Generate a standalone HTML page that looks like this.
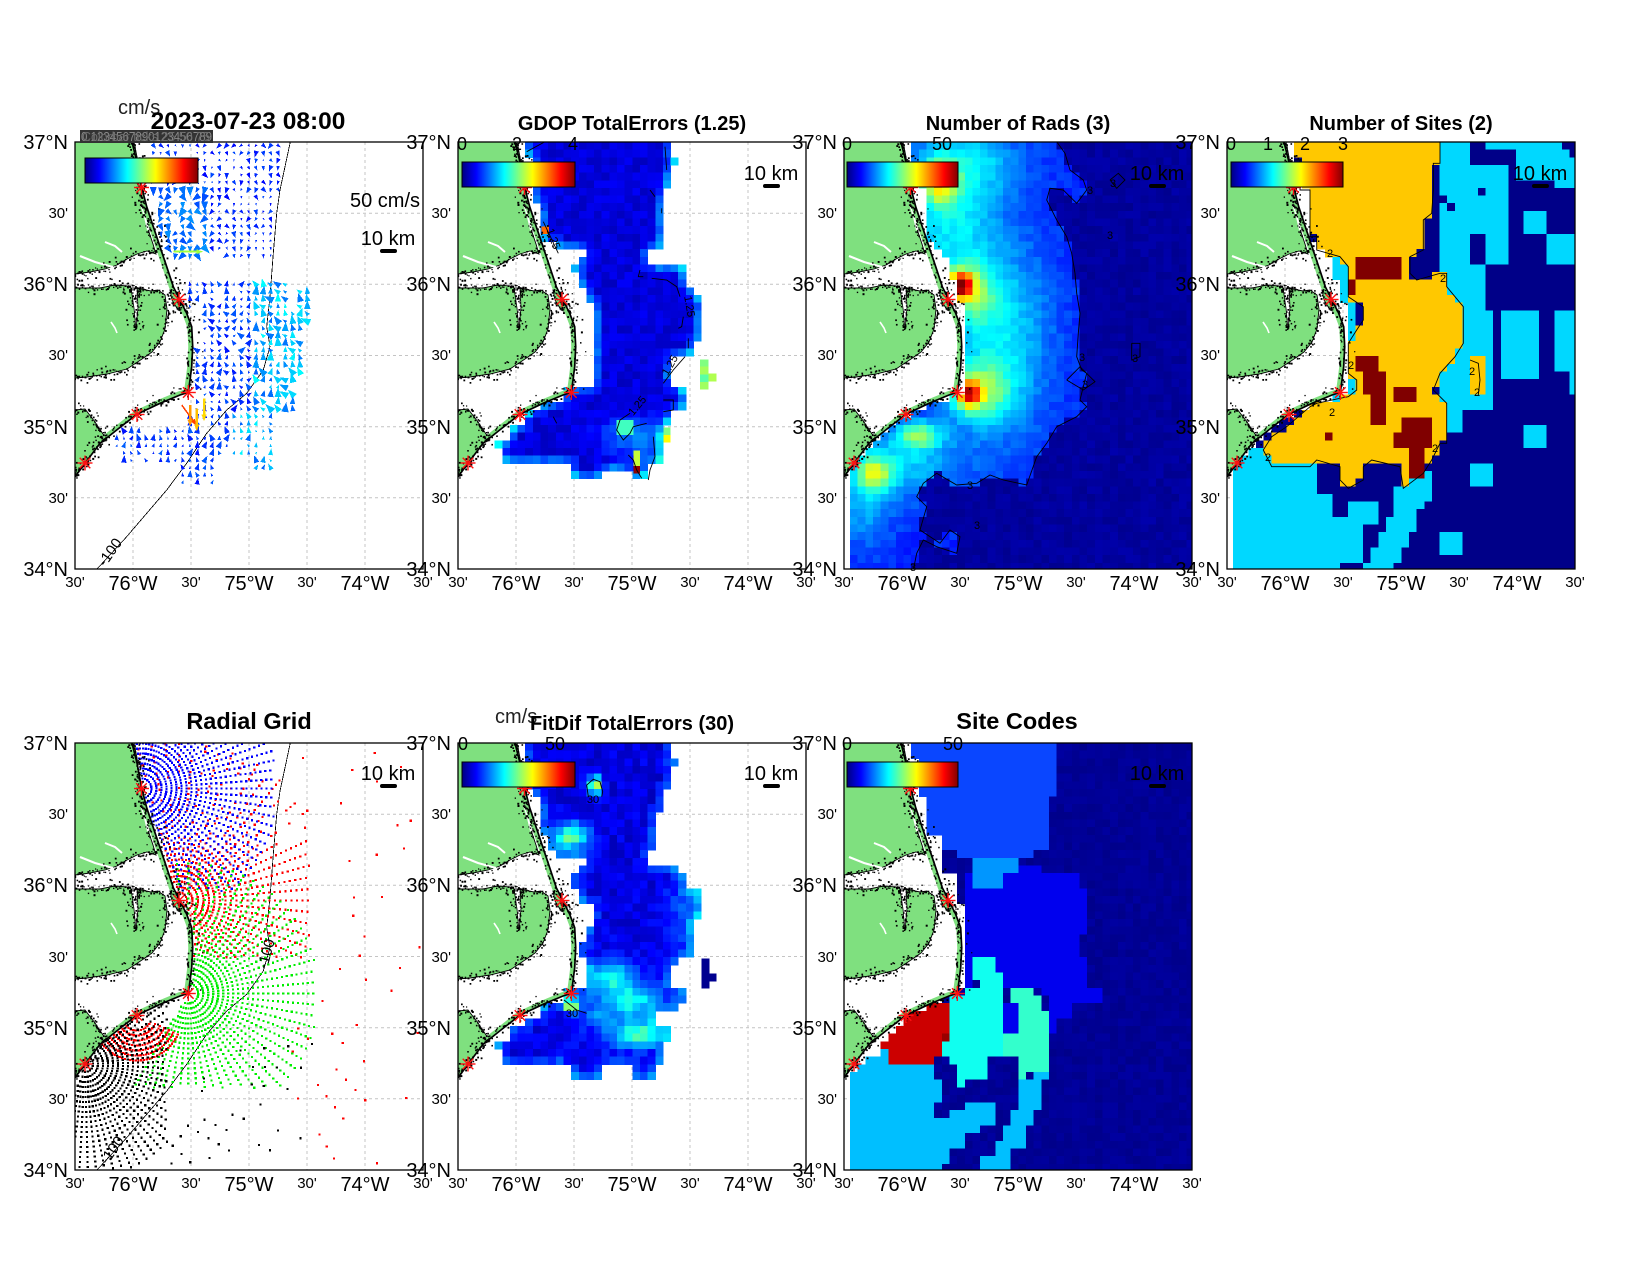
<!DOCTYPE html>
<html><head><meta charset="utf-8"><title>HFR totals</title>
<style>
html,body{margin:0;padding:0;background:#fff;overflow:hidden}
svg{display:block}
text{font-family:"Liberation Sans",Arial,sans-serif;fill:#000}
.t{font-weight:bold;font-size:20px;text-anchor:middle}
.b{font-size:20px}
.s{font-size:15px}
.e{text-anchor:end}
.m{text-anchor:middle}
.cb{font-size:18px;text-anchor:middle}
.cl{font-size:11px;text-anchor:middle}
</style></head><body>
<svg id="s" xmlns="http://www.w3.org/2000/svg" width="1650" height="1275" viewBox="0 0 1650 1275">
<defs id="defs">
<linearGradient id="jet" x1="0" y1="0" x2="1" y2="0">
<stop offset="0" stop-color="#000080"/><stop offset="0.125" stop-color="#0000ff"/><stop offset="0.375" stop-color="#00ffff"/><stop offset="0.625" stop-color="#ffff00"/><stop offset="0.875" stop-color="#ff0000"/><stop offset="1" stop-color="#800000"/>
</linearGradient>
<clipPath id="clip"><rect x="0" y="0" width="348" height="427"/></clipPath>
</defs>
<rect width="1650" height="1275" fill="#fff"/>
<g id="panels"></g>
<g id="txt">
<text x="118" y="114" style="font-size:20px;fill:#222">cm/s</text>
<text class="t" x="248" y="129" style="font-size:24.5px">2023-07-23 08:00</text>
<rect x="80" y="130" width="133" height="13" fill="#333"/>
<text x="81" y="141" style="font-size:13px;fill:#8a8a8a" textLength="131" lengthAdjust="spacingAndGlyphs">0.1234567890123456789</text>
<text x="82" y="141" style="font-size:13px;fill:#6e6e6e" textLength="128" lengthAdjust="spacingAndGlyphs">Colorbar ticks 25 50 75</text>
<text class="t" x="632" y="130">GDOP TotalErrors (1.25)</text>
<text class="t" x="1018" y="130">Number of Rads (3)</text>
<text class="t" x="1401" y="130">Number of Sites (2)</text>
<text class="t" x="249" y="729" style="font-size:23.5px">Radial Grid</text>
<text x="495" y="723" style="font-size:20px;fill:#222">cm/s</text>
<text class="t" x="632" y="730">FitDif TotalErrors (30)</text>
<text class="t" x="1017" y="729" style="font-size:23.5px">Site Codes</text>
<text class="cb" x="462" y="150">0</text><text class="cb" x="517" y="150">2</text><text class="cb" x="573" y="150">4</text>
<text class="cb" x="847" y="150">0</text><text class="cb" x="942" y="150">50</text>
<text class="cb" x="1231" y="150">0</text><text class="cb" x="1268" y="150">1</text><text class="cb" x="1305" y="150">2</text><text class="cb" x="1343" y="150">3</text>
<text class="cb" x="463" y="750">0</text><text class="cb" x="555" y="750">50</text>
<text class="cb" x="847" y="750">0</text><text class="cb" x="953" y="750">50</text>
<text x="350" y="207" style="font-size:20px">50 cm/s</text>
<text class="b m" x="388" y="245">10 km</text>
<text class="b m" x="771" y="180">10 km</text>
<text class="b m" x="1157" y="180">10 km</text>
<text class="b m" x="1540" y="180">10 km</text>
<text class="b m" x="388" y="780">10 km</text>
<text class="b m" x="771" y="780">10 km</text>
<text class="b m" x="1157" y="780">10 km</text>
<text class="s m" transform="translate(114,555) rotate(-55)">-100</text>
<text class="s m" transform="translate(116,1153) rotate(-55)">-100</text>
<text class="s m" transform="translate(271,955) rotate(-75)">-100</text>
<text class="cl" transform="translate(550,240) rotate(70)">1.25</text>
<text class="cl" transform="translate(686,307) rotate(80)">1.25</text>
<text class="cl" transform="translate(673,367) rotate(-60)">1.25</text>
<text class="cl" transform="translate(640,408) rotate(-50)">1.25</text>
<text class="cl" x="1090" y="194">3</text><text class="cl" x="1113" y="187">3</text><text class="cl" x="1110" y="239">3</text>
<text class="cl" x="1082" y="361">3</text><text class="cl" x="1085" y="388">3</text><text class="cl" x="970" y="489">3</text>
<text class="cl" x="977" y="529">3</text><text class="cl" x="913" y="571">3</text><text class="cl" x="1135" y="362">3</text>
<text class="cl" x="1330" y="257">2</text><text class="cl" x="1443" y="282">2</text><text class="cl" x="1351" y="369">2</text>
<text class="cl" x="1332" y="416">2</text><text class="cl" x="1268" y="461">2</text><text class="cl" x="1435" y="452">2</text>
<text class="cl" x="1472" y="375">2</text><text class="cl" x="1477" y="396">2</text>
<text class="cl" x="593" y="803">30</text><text class="cl" x="572" y="1017">30</text>
<text class="b e" x="68" y="149">37°N</text><text class="s e" x="68" y="218">30'</text><text class="b e" x="68" y="291">36°N</text><text class="s e" x="68" y="360">30'</text><text class="b e" x="68" y="434">35°N</text><text class="s e" x="68" y="503">30'</text><text class="b e" x="68" y="576">34°N</text>
<text class="s m" x="75" y="587">30'</text><text class="b m" x="133" y="590">76°W</text><text class="s m" x="191" y="587">30'</text><text class="b m" x="249" y="590">75°W</text><text class="s m" x="307" y="587">30'</text><text class="b m" x="365" y="590">74°W</text><text class="s m" x="423" y="587">30'</text>
<text class="b e" x="451" y="149">37°N</text><text class="s e" x="451" y="218">30'</text><text class="b e" x="451" y="291">36°N</text><text class="s e" x="451" y="360">30'</text><text class="b e" x="451" y="434">35°N</text><text class="s e" x="451" y="503">30'</text><text class="b e" x="451" y="576">34°N</text>
<text class="s m" x="458" y="587">30'</text><text class="b m" x="516" y="590">76°W</text><text class="s m" x="574" y="587">30'</text><text class="b m" x="632" y="590">75°W</text><text class="s m" x="690" y="587">30'</text><text class="b m" x="748" y="590">74°W</text><text class="s m" x="806" y="587">30'</text>
<text class="b e" x="837" y="149">37°N</text><text class="s e" x="837" y="218">30'</text><text class="b e" x="837" y="291">36°N</text><text class="s e" x="837" y="360">30'</text><text class="b e" x="837" y="434">35°N</text><text class="s e" x="837" y="503">30'</text><text class="b e" x="837" y="576">34°N</text>
<text class="s m" x="844" y="587">30'</text><text class="b m" x="902" y="590">76°W</text><text class="s m" x="960" y="587">30'</text><text class="b m" x="1018" y="590">75°W</text><text class="s m" x="1076" y="587">30'</text><text class="b m" x="1134" y="590">74°W</text><text class="s m" x="1192" y="587">30'</text>
<text class="b e" x="1220" y="149">37°N</text><text class="s e" x="1220" y="218">30'</text><text class="b e" x="1220" y="291">36°N</text><text class="s e" x="1220" y="360">30'</text><text class="b e" x="1220" y="434">35°N</text><text class="s e" x="1220" y="503">30'</text><text class="b e" x="1220" y="576">34°N</text>
<text class="s m" x="1227" y="587">30'</text><text class="b m" x="1285" y="590">76°W</text><text class="s m" x="1343" y="587">30'</text><text class="b m" x="1401" y="590">75°W</text><text class="s m" x="1459" y="587">30'</text><text class="b m" x="1517" y="590">74°W</text><text class="s m" x="1575" y="587">30'</text>
<text class="b e" x="68" y="750">37°N</text><text class="s e" x="68" y="819">30'</text><text class="b e" x="68" y="892">36°N</text><text class="s e" x="68" y="962">30'</text><text class="b e" x="68" y="1035">35°N</text><text class="s e" x="68" y="1104">30'</text><text class="b e" x="68" y="1177">34°N</text>
<text class="s m" x="75" y="1188">30'</text><text class="b m" x="133" y="1191">76°W</text><text class="s m" x="191" y="1188">30'</text><text class="b m" x="249" y="1191">75°W</text><text class="s m" x="307" y="1188">30'</text><text class="b m" x="365" y="1191">74°W</text><text class="s m" x="423" y="1188">30'</text>
<text class="b e" x="451" y="750">37°N</text><text class="s e" x="451" y="819">30'</text><text class="b e" x="451" y="892">36°N</text><text class="s e" x="451" y="962">30'</text><text class="b e" x="451" y="1035">35°N</text><text class="s e" x="451" y="1104">30'</text><text class="b e" x="451" y="1177">34°N</text>
<text class="s m" x="458" y="1188">30'</text><text class="b m" x="516" y="1191">76°W</text><text class="s m" x="574" y="1188">30'</text><text class="b m" x="632" y="1191">75°W</text><text class="s m" x="690" y="1188">30'</text><text class="b m" x="748" y="1191">74°W</text><text class="s m" x="806" y="1188">30'</text>
<text class="b e" x="837" y="750">37°N</text><text class="s e" x="837" y="819">30'</text><text class="b e" x="837" y="892">36°N</text><text class="s e" x="837" y="962">30'</text><text class="b e" x="837" y="1035">35°N</text><text class="s e" x="837" y="1104">30'</text><text class="b e" x="837" y="1177">34°N</text>
<text class="s m" x="844" y="1188">30'</text><text class="b m" x="902" y="1191">76°W</text><text class="s m" x="960" y="1188">30'</text><text class="b m" x="1018" y="1191">75°W</text><text class="s m" x="1076" y="1188">30'</text><text class="b m" x="1134" y="1191">74°W</text><text class="s m" x="1192" y="1188">30'</text>
</g>
</svg>
<script>
(function(){
var NS='http://www.w3.org/2000/svg';
function el(t,a,p){var e=document.createElementNS(NS,t);for(var k in a)e.setAttribute(k,a[k]);if(p)p.appendChild(e);return e;}
var seed=20230723;
function rnd(){seed=(Math.imul(seed,1664525)+1013904223)>>>0;return seed/4294967296;}
function cl(v){return Math.max(0,Math.min(1,v));}
function jet(v){v=cl(v);function c(x){return Math.round(255*cl(x));}return 'rgb('+c(1.5-Math.abs(4*v-3))+','+c(1.5-Math.abs(4*v-2))+','+c(1.5-Math.abs(4*v-1))+')';}
function pip(P,x,y){var c=false;for(var i=0,j=P.length-1;i<P.length;j=i++){var a=P[i],b=P[j];if(((a[1]>y)!==(b[1]>y))&&(x<(b[0]-a[0])*(y-a[1])/(b[1]-a[1])+a[0]))c=!c;}return c;}
function inR(r,x,y){return x>=r[0]&&x<r[2]&&y>=r[1]&&y<r[3];}
function pts(P){return P.map(function(p){return p[0].toFixed(1)+','+p[1].toFixed(1);}).join(' ');}
function cv(P,ox,oy){return P.map(function(p){return [p[0]/3-ox,p[1]/3-oy];});}
function bl(B,x,y){var s=0;for(var i=0;i<B.length;i++){var b=B[i];var dx=(x-b[0])/b[2],dy=(y-b[1])/b[3];s+=b[4]*Math.exp(-0.5*(dx*dx+dy*dy));}return s;}
var W=348,H=427;
var coastTop=[[57,0],[62,20],[66.7,45.3],[71.7,64.7],[78.3,84.7],[85,104.7],[91.7,124.7],[98.3,144.7],[105,158],[111.7,171.3],[116.7,184.7],[117.7,204.7],[116.7,224.7],[115,238],[113.3,250.3]];
var coastSW=[[113.3,250.3],[105,253],[85,261.3],[61.7,272.3],[41.7,288],[25,301.3],[10,321.3],[0,334.7]];
function cxTop(y){for(var i=0;i<coastTop.length-1;i++){var a=coastTop[i],b=coastTop[i+1];if(y>=a[1]&&y<=b[1])return a[0]+(b[0]-a[0])*(y-a[1])/(b[1]-a[1]);}return 113.3;}
function ySW(x){for(var i=0;i<coastSW.length-1;i++){var a=coastSW[i],b=coastSW[i+1];if(x<=a[0]&&x>=b[0])return a[1]+(b[1]-a[1])*(x-a[0])/(b[0]-a[0]);}return x<0?335:250;}
function ocean(x,y,m){if(y<=250.3)return x>cxTop(y)+m;if(x>=113.3+m)return true;return y>ySW(x)+m;}
var GAP=[[0,0],[67,0],[70,20],[72,42],[83,45],[84,100],[92,105],[101,110],[104,131],[112,142],[119,165],[122,185],[123,230],[119,250],[0,250]];
function dataMask(x,y){return ocean(x,y,2)&&!pip(GAP,x,y);}
var CS=7.65,X0=6;
function cells(g,fn){for(var x=X0;x<W;x+=CS)for(var y=0;y<H;y+=CS){var c=fn(x+CS/2,y+CS/2);if(c)el('rect',{x:x.toFixed(2),y:y.toFixed(2),width:(CS+0.5).toFixed(2),height:(CS+0.5).toFixed(2),fill:c},g);}}
function zrect(g,list,ox,oy){list.forEach(function(r){el('rect',{x:(r[0]/3-ox).toFixed(2),y:(r[1]/3-oy).toFixed(2),width:((r[2]-r[0])/3).toFixed(2),height:((r[3]-r[1])/3).toFixed(2),fill:r[4]},g);});}
function zline(g,list,ox,oy,w){list.forEach(function(L){el('polyline',{points:pts(cv(L,ox,oy)),fill:'none',stroke:'#000','stroke-width':w||0.9},g);});}
function tri(g,x,y,ang,s,col){var c=Math.cos(ang),sn=Math.sin(ang);var tx=x+s*c,ty=y+s*sn,bx=x-s*0.35*c,by=y-s*0.35*sn,px=-sn*s*0.5,py=c*s*0.5;el('polygon',{points:[tx,ty,bx+px,by+py,bx-px,by-py].map(function(v){return v.toFixed(1);}).join(' '),fill:col},g);}
function arrow(g,x1,y1,x2,y2,col,w){el('line',{x1:x1,y1:y1,x2:x2,y2:y2,stroke:col,'stroke-width':w},g);var a=Math.atan2(y2-y1,x2-x1);tri(g,x2-2*Math.cos(a),y2-2*Math.sin(a),a,5,col);}

var defs=document.getElementById('defs');
var grid=el('g',{id:'grid',stroke:'#c4c4c4','stroke-width':1,'stroke-dasharray':'3,3'},defs);
[58,116,174,232,290].forEach(function(x){el('line',{x1:x,y1:0,x2:x,y2:H},grid);});
[71.2,142.3,213.5,284.7,355.8].forEach(function(y){el('line',{x1:0,y1:y,x2:W,y2:y},grid);});
var L1=[[0,0],[59,0],[62,15],[64,32],[64,48],[66,60],[70,75],[74,90],[78,102],[81,112],[72,109],[62,112],[52,117],[42,123],[30,127],[15,130],[0,132]];
var L2=[[0,146],[25,146],[40,143],[52,144],[58,147],[66,147],[76,149],[83,148],[90,153],[92,167],[90,187],[85,200],[77,210],[67,217],[52,227],[32,232],[12,235],[0,236]];
var L2b=[[95,148],[102,150],[106,160],[108,170],[103,168],[97,158]];
var L3=[[0,268],[10,267],[20,280],[28,292],[32,298],[25,301.3],[10,321.3],[0,334.7]];
var W2=[[56,146],[62,146],[63,165],[61,188],[59,166]];
var land=el('g',{id:'land'},defs);
[L1,L2,L2b,L3].forEach(function(P){el('polygon',{points:pts(P),fill:'#7fe07f',stroke:'#000','stroke-width':0.9},land);});
el('polygon',{points:pts(W2),fill:'#fff',stroke:'#000','stroke-width':0.8},land);
el('polyline',{points:'5,114 20,120 38,125',fill:'none',stroke:'#fff','stroke-width':2.2},land);
el('polyline',{points:'30,100 40,104 47,110',fill:'none',stroke:'#fff','stroke-width':2},land);
el('polyline',{points:'66,62 70,75 73,88',fill:'none',stroke:'#fff','stroke-width':2},land);
el('polyline',{points:'36,180 40,186 42,191',fill:'none',stroke:'#fff','stroke-width':1.6},land);
el('polyline',{points:pts(coastTop.slice(1).map(function(p){return [p[0]-2.2,p[1]];})),fill:'none',stroke:'#7fe07f','stroke-width':4.5},land);
el('polyline',{points:pts(coastSW.map(function(p){return [p[0]-1.3,p[1]-1.8];})),fill:'none',stroke:'#7fe07f','stroke-width':3.5},land);
var dots=el('g',{fill:'#000'},land);
function edgeDots(P,closed,spread,prob,step,bias){var n=P.length,lim=closed?n:n-1;for(var i=0;i<lim;i++){var a=P[i],b=P[(i+1)%n];if((a[0]<=0.5&&b[0]<=0.5)||(a[1]<=0.5&&b[1]<=0.5))continue;var dx=b[0]-a[0],dy=b[1]-a[1],L=Math.hypot(dx,dy);if(L<0.1)continue;var nx=-dy/L,ny=dx/L;for(var t=0;t<L;t+=step){if(rnd()>prob)continue;var o=(rnd()-0.5)*2*spread+(bias||0);var x=a[0]+dx*t/L+nx*o,y=a[1]+dy*t/L+ny*o;var sz=1.2+rnd()*0.8;el('rect',{x:(x-sz/2).toFixed(1),y:(y-sz/2).toFixed(1),width:sz.toFixed(1),height:sz.toFixed(1)},dots);}}}
[L1,L2,L2b,L3,W2].forEach(function(P){edgeDots(P,true,3,0.8,1.5);edgeDots(P,true,8,0.45,1.5);});
edgeDots(coastTop,false,4,0.7,1.5);edgeDots(coastTop,false,9,0.3,1.5,-4);edgeDots(coastSW,false,4,0.6,1.5);edgeDots(coastSW,false,8,0.3,1.5,3);
el('polyline',{points:pts(coastTop.concat(coastSW.slice(1))),fill:'none',stroke:'#000','stroke-width':1.7},land);
var SITES=[[66.5,45.5],[104,157.5],[113.3,250.5],[62,272.5],[10,321]];
var stars=el('g',{id:'stars',stroke:'#ff1010','stroke-width':1.4},defs);
SITES.forEach(function(s){for(var k=0;k<4;k++){var a=k*Math.PI/4;el('line',{x1:(s[0]-7.5*Math.cos(a)).toFixed(1),y1:(s[1]-7.5*Math.sin(a)).toFixed(1),x2:(s[0]+7.5*Math.cos(a)).toFixed(1),y2:(s[1]+7.5*Math.sin(a)).toFixed(1)},stars);}});
var BATHY=[[21.7,427.3],[51.7,394.7],[71.7,371.3],[91.7,348],[111.7,321.3],[131.7,291.3],[151.7,268],[171.7,251.3],[188.3,228],[195,204.7],[191.7,184.7],[195,154.7],[198.3,111.3],[201.7,71.3],[205,48],[210,24.7],[215,1.3],[216,-2]];

var root=document.getElementById('panels');
function panel(L,T){var g=el('g',{transform:'translate('+L+','+T+')'},root);var c=el('g',{'clip-path':'url(#clip)'},g);el('rect',{x:0,y:0,width:W,height:H,fill:'#fff'},c);el('use',{href:'#grid'},c);var d=el('g',{'shape-rendering':'crispEdges'},c);return {g:g,c:c,d:d};}
function fin(p,cb,sy,over){el('use',{href:'#land'},p.c);if(over)over(p.c);el('use',{href:'#stars'},p.c);if(cb)el('rect',{x:cb[0],y:cb[1],width:cb[2],height:25,fill:'url(#jet)',stroke:'#000','stroke-width':1},p.c);el('rect',{x:305,y:sy-2,width:17,height:4,rx:2,fill:'#000'},p.c);el('rect',{x:0,y:0,width:W,height:H,fill:'none',stroke:'#000','stroke-width':1.3},p.g);}

// P1 vectors
var p=panel(75,142);
el('polyline',{points:pts(BATHY),fill:'none',stroke:'#000','stroke-width':0.8},p.d);
var RA=[[440,185],[855,185],[855,330],[830,330],[830,530],[500,530],[500,470],[470,470],[470,330],[440,330]];
var RB=[[560,595],[870,595],[870,700],[920,700],[920,840],[880,960],[880,990],[580,1000],[580,820],[600,790],[600,700],[560,700]];
var RB2=[[880,620],[940,620],[940,730],[880,730]];
var RC=[[350,1040],[560,1040],[560,1010],[830,1010],[830,1140],[810,1180],[760,1180],[760,1140],[640,1140],[640,1210],[540,1210],[540,1160],[350,1160]];
for(var zy=196;zy<1215;zy+=22)for(var zx=350;zx<950;zx+=22){
 var reg=pip(RA,zx,zy)?1:((pip(RB,zx,zy)||pip(RB2,zx,zy))?2:(pip(RC,zx,zy)?3:0));
 if(!reg)continue;var x=zx/3-75,y=zy/3-62;if(!ocean(x,y,3))continue;if(rnd()<0.12)continue;
 var a,s,v;
 if(reg==1){a=(90+(rnd()-0.5)*110)*Math.PI/180;s=1.5+rnd()*3.5;v=0.13+rnd()*0.07;if(zx<620&&zy>320){s+=2.5;v+=0.07;}}
 else if(reg==2){if(zx>760){a=(-110+(rnd()-0.5)*90)*Math.PI/180;s=3+rnd()*4.5;v=0.22+rnd()*0.16;}else{a=(-90+(rnd()-0.5)*120)*Math.PI/180;s=2+rnd()*4;v=0.14+rnd()*0.08;}}
 else{a=(-90+(rnd()-0.5)*70)*Math.PI/180;s=2+rnd()*4;v=zx>700?0.22+rnd()*0.15:0.14+rnd()*0.08;}
 tri(p.d,x,y,a,s,jet(v));
}
arrow(p.d,98.3,109.7,125,109.7,'#a0ff40',2);
arrow(p.d,106.7,263,120,281.3,'#ff4000',1.5);
arrow(p.d,115,263,115,281.3,'#ff9800',2.5);
arrow(p.d,121.7,266.3,121.7,286.3,'#ffc000',2.5);
arrow(p.d,129,256.3,129,276.3,'#ffd800',2.5);
fin(p,[10,16,113],109);

// P2 GDOP
p=panel(458,142);
var P2MZ=[[378,185],[812,185],[812,230],[835,230],[835,250],[812,250],[812,330],[790,330],[790,510],[740,510],[740,560],[860,560],[860,630],[880,630],[880,650],[900,650],[900,785],[880,785],[880,840],[810,840],[810,910],[790,910],[790,930],[860,930],[860,1000],[810,1000],[810,1040],[790,1040],[790,1160],[740,1160],[740,1200],[700,1200],[700,1180],[600,1180],[600,1200],[515,1200],[515,1155],[310,1155],[310,1110],[288,1110],[288,1090],[310,1090],[310,1070],[330,1070],[330,1040],[380,1040],[380,1000],[420,1000],[420,975],[470,975],[490,950],[490,930],[580,930],[580,670],[560,670],[560,620],[540,620],[540,580],[515,580],[515,555],[540,555],[540,530],[560,530],[560,515],[515,515],[470,510],[470,490],[445,490],[430,470],[425,370],[400,370],[400,240],[378,240]];
var M2=cv(P2MZ,58,62);
var B2=[[190,300,25,15,0.13],[165,292,20,12,0.07]];
function m2(x,y){return pip(M2,x,y);}
cells(p.d,function(x,y){if(!m2(x,y))return null;var e=0;for(var i=-1;i<=1;i++)for(var j=-1;j<=1;j++){if(!i&&!j)continue;var yy=y+j*CS;if(yy<0)continue;if(!m2(x+i*CS,yy))e++;}return jet(0.09+0.045*e+(rnd()-0.5)*0.06+bl(B2,x,y));});
zrect(p.d,[[425,440,447,462,'#ff6a00'],[900,838,925,860,'#80ff80'],[900,860,925,884,'#a6ff5a'],[925,880,950,905,'#b0ff4f'],[900,884,925,906,'#5affa6'],[900,906,925,928,'#a0ff60'],[790,1065,812,1088,'#ffff00'],[700,1158,720,1180,'#900000'],[700,1112,720,1158,'#c8ff38'],[650,1020,700,1065,'#40ffc0'],[790,1042,812,1065,'#80ff80']],58,62);
fin(p,[4,20,113],44,function(g){zline(g,[[[380,215],[435,185]],[[795,200],[800,270]],[[750,330],[765,350]],[[785,385],[785,400]],[[430,425],[475,520]],[[720,570],[715,590],[730,590]],[[755,595],[800,600],[830,620],[840,650]],[[850,710],[845,740],[835,745]],[[865,775],[865,805]],[[855,830],[820,870],[790,910]],[[690,1000],[660,1020],[650,1050],[670,1080],[690,1060],[700,1040],[740,1030]],[[790,960],[820,960],[820,990],[790,995]],[[760,1070],[765,1130],[750,1170],[745,1200]],[[685,1125],[700,1140],[710,1170],[725,1195]],[[460,1010],[470,1030]]],58,62);});

// P3 Rads
p=panel(844,142);
var C3Z=[[800,185],[825,220],[840,270],[880,300],[890,330],[860,370],[820,330],[780,325],[770,360],[800,420],[830,470],[845,520],[855,580],[860,640],[870,700],[865,760],[860,830],[875,870],[890,880],[880,920],[870,960],[890,980],[860,1010],[800,1040],[770,1090],[740,1130],[710,1215],[640,1200],[600,1185],[560,1210],[500,1215],[440,1180],[400,1210],[380,1250],[410,1280],[390,1350],[450,1390],[480,1350],[510,1370],[500,1420],[440,1400],[400,1380],[380,1420],[370,1470]];
var C3in=cv(C3Z.concat([[162,1470],[162,185]]),54,62);
var B3=[[95,40,12,15,0.35],[105,60,30,60,0.2],[145,20,30,25,0.1],[117,143,8,9,0.55],[125,150,18,20,0.22],[155,195,35,70,0.2],[125,252,8,9,0.5],[135,250,22,20,0.26],[75,293,15,9,0.3],[30,332,12,12,0.3],[60,320,40,25,0.17],[20,365,20,30,0.12]];
cells(p.d,function(x,y){if(!dataMask(x,y))return null;if(pip(C3in,x,y))return jet(0.16+bl(B3,x,y)+(rnd()-0.5)*0.05);return jet(0.03+(rnd()-0.5)*0.03);});
fin(p,[3,20,111],44,function(g){zline(g,[C3Z,[[960,300],[985,280],[1005,300],[980,325],[960,300]],[[1025,790],[1050,790],[1050,830],[1025,840],[1025,790]],[[830,900],[870,860],[915,905],[880,930],[830,900]]],54,62);});

// P4 Sites
p=panel(1227,142);
var G1=[[282,185],[720,185],[720,250],[700,250],[700,330],[695,400],[670,420],[670,510],[630,530],[630,580],[600,580],[600,535],[470,535],[470,580],[445,580],[445,560],[420,530],[350,510],[350,470],[330,470],[330,330],[300,330],[300,240],[282,240]];
var G2=[[445,600],[445,580],[600,580],[630,580],[650,600],[720,580],[740,580],[740,620],[790,680],[790,790],[765,830],[720,880],[700,930],[740,970],[740,1090],[720,1090],[695,1140],[670,1180],[610,1225],[600,1160],[515,1140],[490,1160],[490,1200],[445,1225],[420,1200],[420,1160],[350,1140],[330,1160],[215,1160],[190,1110],[215,1070],[260,1040],[330,980],[350,970],[420,955],[445,950],[470,930],[470,900],[445,880],[445,790],[470,750],[490,720],[490,680],[445,650]];
var R4=[[470,535,600,600],[445,600,470,650],[470,835,535,885],[490,885,560,950],[515,950,560,1040],[580,930,650,975],[605,1020,695,1110],[580,1065,605,1110],[630,1110,670,1200],[375,1065,400,1090]];
var N4=[[720,345,742,368],[742,368,765,392],[835,320,860,345],[810,470,860,560]];
var CYR=[[720,185,810,1000],[810,250,925,470],[860,185,1085,210],[945,210,1110,300],[970,400,1040,460],[1040,460,1127,550],[1060,230,1127,330],[860,470,925,560],[790,560,860,700],[810,700,880,1000],[900,680,1015,900],[1060,680,1127,880],[970,1045,1040,1110],[815,1145,875,1220],[720,1365,790,1430],[1110,880,1127,950],[350,510,470,1000],[740,980,790,1060],[100,1110,350,1470]];
var CYP=[[[350,1250],[400,1250],[400,1300],[440,1300],[440,1270],[530,1270],[530,1340],[490,1340],[490,1440],[420,1440],[420,1470],[350,1470]],[[600,1180],[695,1180],[695,1240],[650,1300],[630,1380],[580,1470],[490,1470],[530,1380],[580,1300]]];
cells(p.d,function(x,y){if(!dataMask(x,y))return null;var zx=(x+27)*3,zy=(y+62)*3;if(zx<100)return null;var i;
 for(i=0;i<R4.length;i++)if(inR(R4[i],zx,zy))return '#800000';
 if(pip(G1,zx,zy)||pip(G2,zx,zy)||inR([810,840,860,950],zx,zy))return '#ffc800';
 for(i=0;i<N4.length;i++)if(inR(N4[i],zx,zy))return '#000088';
 for(i=0;i<CYR.length;i++)if(inR(CYR[i],zx,zy))return '#00d8ff';
 for(i=0;i<CYP.length;i++)if(pip(CYP[i],zx,zy))return '#00d8ff';
 return '#000088';});
fin(p,[4,20,112],44,function(g){zline(g,[[[282,240],[300,240],[300,330],[330,330],[330,470],[350,470],[350,510],[420,530],[445,560],[445,650],[490,680],[490,720],[470,750],[445,790],[445,880],[470,900],[470,930],[445,950],[420,955],[350,970],[330,980],[260,1040],[215,1070],[190,1110],[215,1160],[330,1160],[350,1140],[420,1160],[420,1200],[445,1225],[490,1200],[490,1160],[515,1140],[600,1160],[610,1225],[670,1180],[695,1140],[720,1090],[740,1090],[740,970],[700,930],[720,880],[765,830],[790,790],[790,680],[740,620],[740,580],[720,580],[650,600],[630,580],[630,530],[670,510],[670,420],[695,400],[700,330],[700,250],[720,250],[720,185]],[[810,840],[835,850],[840,900],[835,945]]],27,62);});

// Q1 Radial grid
p=panel(75,743);
el('polyline',{points:pts(BATHY),fill:'none',stroke:'#000','stroke-width':0.8},p.d);
function arcs(g,c,r0,r1,dr,st,a0,a1,col,f,prob){for(var r=r0;r<=r1+0.01;r+=dr){var sd=Math.max(st,2.6/r*180/Math.PI);for(var a=a0;a<=a1;a+=sd){var t=a*Math.PI/180,x=c[0]+r*Math.cos(t),y=c[1]+r*Math.sin(t);if(x<0||x>W||y<0||y>H)continue;if(!ocean(x,y,1.5))continue;if(f&&!f(x,y,r))continue;if(prob&&rnd()>prob)continue;el('rect',{x:(x-1.1).toFixed(1),y:(y-1.1).toFixed(1),width:2.2,height:2.2,fill:col},g);}}}
arcs(p.d,SITES[1],8,160,5.5,5,-120,120,'#ff0000',function(x,y,r){return y<215&&x<235&&(r<60||y>100||rnd()<0.6);});
arcs(p.d,SITES[0],10,135,5,4,-100,100,'#0000ff',function(x,y){return y<148&&x<200;});
arcs(p.d,SITES[2],10,130,5,5,-100,120,'#00ee00',function(x,y){return y>118&&x<240&&y<345;});
arcs(p.d,SITES[3],15,45,5,3.5,25,150,'#ff0000');
arcs(p.d,SITES[4],8,115,5,4.5,-60,110,'#000000',function(x,y){return x<92;});
arcs(p.d,SITES[1],175,345,14,6,-85,70,'#ff0000',function(x,y){return x>210;},0.35);
arcs(p.d,SITES[4],120,235,12,6,-5,50,'#000000',null,0.45);
fin(p,null,43);

// Q2 FitDif
p=panel(458,743);
var Q2MZ=[[318,128],[755,128],[755,170],[778,170],[778,195],[755,195],[755,260],[730,260],[730,335],[708,335],[708,450],[685,450],[685,500],[775,500],[775,525],[800,525],[800,565],[843,565],[843,660],[820,660],[820,775],[778,775],[778,800],[755,800],[755,870],[800,870],[800,915],[778,915],[778,940],[708,940],[708,985],[755,985],[755,1030],[730,1030],[730,1095],[708,1095],[708,1140],[640,1140],[640,1095],[545,1095],[545,1140],[455,1140],[455,1095],[250,1095],[250,1055],[225,1055],[225,1030],[270,1030],[270,985],[320,960],[365,940],[365,915],[410,915],[432,890],[432,870],[500,870],[500,775],[478,775],[478,730],[500,730],[500,685],[520,685],[520,610],[478,610],[478,565],[458,565],[458,520],[478,520],[478,495],[500,495],[500,470],[410,470],[410,450],[385,450],[385,405],[365,405],[365,285],[340,285],[340,262],[318,262]];
var MQ2=cv(Q2MZ,38,43);
var BQ2=[[137,42,5,6,0.5],[115,92,12,10,0.32],[106,100,8,7,0.12],[152,235,15,12,0.24],[180,292,18,9,0.3],[113,262,5,5,0.5],[175,258,15,10,0.2],[230,165,14,25,0.14],[140,270,10,8,0.12],[170,265,40,30,0.1]];
function mq2(x,y){return pip(MQ2,x,y);}
cells(p.d,function(x,y){if(!mq2(x,y))return null;var e=0;for(var i=-1;i<=1;i++)for(var j=-1;j<=1;j++){if(!i&&!j)continue;var yy=y+j*CS;if(yy<0)continue;if(!mq2(x+i*CS,yy))e++;}return jet(0.095+0.03*e+(rnd()-0.5)*0.08+bl(BQ2,x,y));});
zrect(p.d,[[845,775,868,865,'#000090'],[868,820,890,845,'#000090']],38,43);
fin(p,[4,19,113],43,function(g){zline(g,[[[505,290],[500,255],[520,238],[540,245],[548,275],[545,290]],[[432,900],[470,930],[500,940]]],38,43);});

// Q3 Site codes
p=panel(844,743);
var Q3MZ=[[365,128],[1205,128],[1205,1410],[180,1410],[180,1140],[225,1075],[270,1055],[270,1030],[320,985],[345,985],[345,940],[410,940],[410,915],[478,890],[520,870],[520,610],[500,610],[500,520],[455,520],[455,400],[410,400],[410,290],[385,290],[385,185],[365,185]];
var RED3=[[410,915],[478,915],[478,1030],[455,1030],[455,1075],[432,1075],[432,1097],[295,1097],[295,1055],[270,1055],[270,1030],[320,985],[345,985],[345,940],[410,940]];
var AQM=[[660,870],[730,870],[730,890],[755,890],[778,985],[778,1120],[708,1120],[708,1140],[685,1140],[685,1075],[640,1075],[640,1010],[685,1010],[685,915],[660,915]];
var AQ=[[545,775],[615,775],[615,820],[640,820],[640,985],[685,985],[685,1075],[595,1075],[595,1140],[525,1140],[525,1165],[500,1165],[500,1100],[478,1100],[478,1075],[455,1075],[455,1030],[478,1030],[478,890],[525,890],[525,870],[570,870],[570,845],[545,845]];
var SK1=[[180,1140],[225,1075],[270,1055],[295,1055],[295,1097],[432,1097],[432,1140],[455,1140],[455,1210],[432,1210],[432,1255],[478,1255],[478,1235],[525,1235],[525,1210],[615,1210],[615,1280],[570,1280],[570,1300],[525,1300],[525,1350],[478,1350],[478,1390],[455,1390],[455,1410],[180,1410]];
var SK2=[[730,1120],[778,1120],[778,1140],[755,1140],[755,1235],[730,1235],[730,1280],[708,1280],[708,1345],[660,1345],[660,1410],[570,1410],[570,1370],[615,1370],[615,1325],[640,1325],[640,1280],[660,1280],[660,1235],[685,1235],[685,1140],[730,1140]];
var LB=[[545,475],[685,475],[685,520],[640,520],[640,565],[545,565]];
var MB=[[520,520],[545,520],[545,565],[640,565],[640,520],[685,520],[685,500],[755,500],[755,520],[865,520],[865,570],[890,570],[890,700],[870,700],[870,780],[890,780],[890,870],[935,870],[935,915],[845,915],[845,960],[800,960],[800,1010],[778,1010],[778,890],[755,890],[755,870],[640,870],[640,820],[615,820],[615,775],[545,775],[545,870],[525,870],[525,610],[520,610]];
var TL=[[365,128],[800,128],[800,300],[775,300],[775,450],[730,450],[730,475],[500,475],[500,450],[455,450],[455,400],[410,400],[410,290],[385,290],[385,185],[365,185]];
cells(p.d,function(x,y){var zx=(x+54)*3,zy=(y+43)*3;if(!pip(Q3MZ,zx,zy))return null;
 if(inR([455,1010,478,1030],zx,zy))return '#990000';
 if(pip(RED3,zx,zy))return '#cc0000';
 if(pip(AQM,zx,zy))return '#33ffcc';
 if(inR([640,915,685,1010],zx,zy))return '#0000ee';
 if(pip(AQ,zx,zy))return '#10fff0';
 if(pip(SK1,zx,zy)||pip(SK2,zx,zy))return '#00bfff';
 if(pip(LB,zx,zy))return '#0096ff';
 if(pip(MB,zx,zy))return '#0000ee';
 if(pip(TL,zx,zy))return '#0a46ff';
 return 'rgb(0,0,'+(138+Math.floor(rnd()*24))+')';});
fin(p,[3,19,111],43);
})();
</script>
</body></html>
